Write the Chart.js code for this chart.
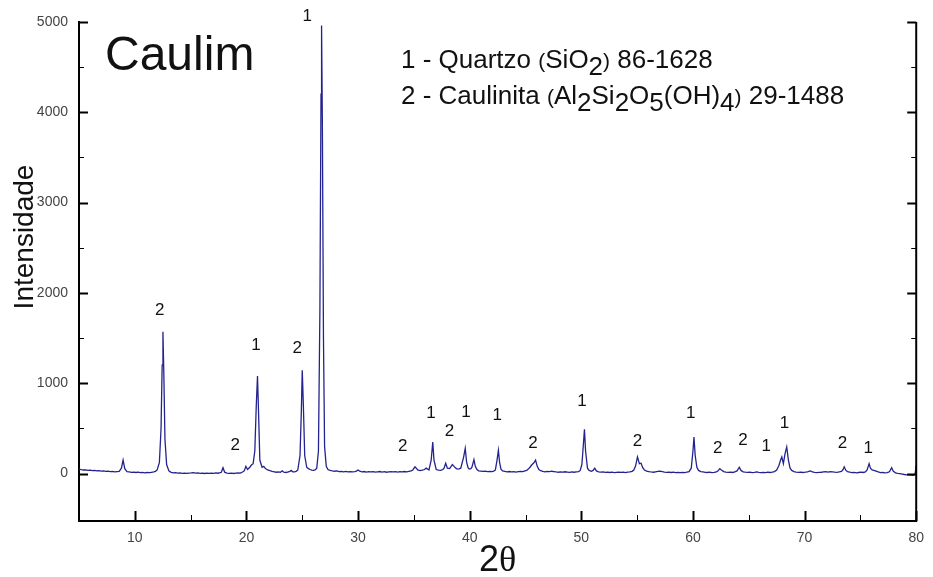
<!DOCTYPE html>
<html>
<head>
<meta charset="utf-8">
<script src="https://cdn.jsdelivr.net/npm/chart.js@4.4.0/dist/chart.umd.min.js"></script>
<style>
  html, body { margin: 0; padding: 0; background: #fff; }
  #wrap { width: 933px; height: 577px; }
</style>
</head>
<body>
<div id="wrap"><canvas id="xrd" width="933" height="577"></canvas></div>
<script>
// 2theta (degrees) and intensity, ten points per line
var twoTheta = [
  5.0, 5.2, 5.4, 5.6, 5.8, 6.0, 6.2, 6.4, 6.6, 6.8,
  7.0, 7.2, 7.4, 7.6, 7.8, 8.0, 8.2, 8.4, 8.6, 8.8,
  8.95, 9.1, 9.3, 9.5, 9.7, 9.9, 10.1, 10.3, 10.5, 10.7,
  10.9, 11.1, 11.3, 11.5, 11.7, 11.85, 12.0, 12.2, 12.35, 12.45,
  12.52, 12.6, 12.7, 12.85, 13.05, 13.25, 13.45, 13.65, 13.85, 14.05,
  14.25, 14.45, 14.65, 14.85, 15.05, 15.25, 15.45, 15.65, 15.85, 16.05,
  16.25, 16.45, 16.65, 16.85, 17.05, 17.25, 17.45, 17.65, 17.75, 17.9,
  18.05, 18.25, 18.45, 18.65, 18.85, 19.05, 19.25, 19.45, 19.65, 19.8,
  19.95, 20.1, 20.3, 20.45, 20.6, 20.75, 20.88, 20.99, 21.08, 21.2,
  21.4, 21.55, 21.7, 21.9, 22.1, 22.3, 22.5, 22.7, 22.9, 23.05,
  23.2, 23.35, 23.55, 23.75, 23.9, 24.0, 24.15, 24.3, 24.45, 24.6,
  24.8, 24.92, 25.0, 25.1, 25.22, 25.4, 25.55, 25.7, 25.85, 26.0,
  26.15, 26.3, 26.45, 26.58, 26.68, 26.73, 26.8, 26.9, 27.0, 27.15,
  27.3, 27.5, 27.7, 27.9, 28.1, 28.3, 28.5, 28.7, 28.9, 29.1,
  29.3, 29.5, 29.7, 29.85, 30.0, 30.15, 30.35, 30.55, 30.75, 30.95,
  31.15, 31.35, 31.55, 31.75, 31.95, 32.15, 32.35, 32.55, 32.75, 32.95,
  33.15, 33.35, 33.55, 33.75, 33.95, 34.15, 34.35, 34.55, 34.75, 34.9,
  35.1, 35.35, 35.55, 35.75, 35.95, 36.1, 36.35, 36.55, 36.69, 36.8,
  37.0, 37.2, 37.4, 37.6, 37.7, 37.85, 38.0, 38.2, 38.45, 38.6,
  38.75, 38.9, 39.05, 39.2, 39.45, 39.6, 39.72, 39.85, 39.95, 40.1,
  40.2, 40.38, 40.5, 40.65, 40.8, 41.0, 41.2, 41.4, 41.6, 41.8,
  42.0, 42.15, 42.3, 42.45, 42.57, 42.68, 42.8, 42.95, 43.15, 43.35,
  43.55, 43.75, 43.95, 44.15, 44.35, 44.55, 44.75, 44.95, 45.1, 45.25,
  45.4, 45.55, 45.75, 45.9, 46.05, 46.2, 46.35, 46.55, 46.75, 46.95,
  47.15, 47.35, 47.55, 47.75, 47.95, 48.15, 48.35, 48.55, 48.75, 48.95,
  49.15, 49.35, 49.55, 49.75, 49.9, 50.05, 50.2, 50.28, 50.38, 50.55,
  50.7, 50.9, 51.05, 51.2, 51.35, 51.55, 51.75, 51.95, 52.15, 52.35,
  52.55, 52.75, 52.95, 53.15, 53.35, 53.55, 53.75, 53.95, 54.15, 54.35,
  54.55, 54.7, 54.85, 55.03, 55.2, 55.35, 55.5, 55.65, 55.85, 56.05,
  56.25, 56.45, 56.65, 56.85, 57.05, 57.25, 57.45, 57.65, 57.85, 58.05,
  58.25, 58.45, 58.65, 58.85, 59.05, 59.25, 59.45, 59.65, 59.85, 60.0,
  60.09, 60.2, 60.35, 60.5, 60.7, 60.9, 61.1, 61.3, 61.5, 61.7,
  61.9, 62.1, 62.25, 62.4, 62.55, 62.75, 62.95, 63.15, 63.35, 63.55,
  63.75, 63.95, 64.15, 64.3, 64.5, 64.7, 64.9, 65.1, 65.3, 65.5,
  65.7, 65.9, 66.1, 66.3, 66.5, 66.7, 66.9, 67.1, 67.3, 67.5,
  67.7, 67.85, 67.96, 68.1, 68.25, 68.4, 68.55, 68.7, 68.85, 69.05,
  69.25, 69.45, 69.65, 69.85, 70.05, 70.25, 70.5, 70.7, 70.9, 71.1,
  71.3, 71.5, 71.7, 71.9, 72.1, 72.3, 72.5, 72.7, 72.9, 73.1,
  73.3, 73.45, 73.55, 73.7, 73.85, 74.05, 74.25, 74.45, 74.65, 74.85,
  75.05, 75.25, 75.45, 75.6, 75.78, 75.9, 76.05, 76.2, 76.4, 76.6,
  76.8, 77.0, 77.2, 77.4, 77.6, 77.8, 77.95, 78.15, 78.35, 78.55,
  78.75, 78.95, 79.15, 79.35, 79.55, 79.75, 79.9, 80.0
];
var intensity = [
  50, 44, 40, 42, 36, 38, 33, 36, 30, 32,
  28, 30, 25, 27, 21, 24, 18, 22, 25, 60,
  150, 55, 22, 18, 14, 17, 12, 15, 11, 14,
  9, 12, 10, 14, 18, 25, 40, 120, 500, 1200,
  1570, 1100, 380, 100, 30, 14, 8, 11, 5, 8,
  3, 6, 2, 5, 7, 10, 6, 8, 3, 5,
  1, 4, 2, 6, 3, 7, 4, 10, 15, 65,
  15, 6, 2, 5, 1, 4, 7, 5, 18, 30,
  80, 45, 70, 95, 110, 250, 750, 1080, 700, 150,
  70, 80, 55, 40, 32, 25, 20, 15, 18, 14,
  30, 15, 12, 18, 25, 35, 20, 18, 25, 40,
  200, 700, 1145, 750, 200, 70, 55, 45, 38, 35,
  40, 60, 250, 1800, 4200, 4960, 3900, 1500, 300, 80,
  45, 35, 30, 26, 30, 22, 25, 20, 24, 19,
  22, 18, 22, 28, 40, 26, 20, 23, 17, 21,
  18, 22, 16, 20, 23, 17, 21, 15, 19, 22,
  18, 21, 17, 22, 19, 23, 20, 25, 30, 40,
  75, 40, 33, 38, 45, 60, 40, 150, 350, 150,
  45, 38, 35, 45, 60, 115, 60, 55, 100, 80,
  60, 50, 52, 60, 180, 280, 130, 65, 50, 55,
  70, 155, 80, 45, 30, 27, 24, 28, 22, 25,
  21, 26, 40, 150, 258, 120, 50, 30, 24, 20,
  23, 18, 22, 17, 21, 25, 22, 30, 35, 50,
  70, 95, 120, 150, 80, 45, 32, 25, 20, 24,
  21, 26, 22, 18, 15, 19, 16, 20, 17, 14,
  18, 15, 19, 22, 35, 100, 350, 490, 250, 60,
  35, 25, 35, 60, 30, 20, 16, 18, 13, 16,
  12, 15, 11, 14, 17, 13, 15, 11, 16, 18,
  25, 40, 80, 185, 110, 115, 65, 40, 28, 22,
  18, 15, 20, 25, 27, 22, 17, 13, 16, 12,
  15, 11, 14, 10, 13, 11, 15, 22, 60, 250,
  405, 200, 70, 35, 22, 18, 14, 12, 15, 11,
  14, 18, 30, 55, 40, 22, 16, 13, 16, 12,
  18, 30, 70, 35, 20, 16, 13, 15, 11, 14,
  18, 13, 10, 14, 11, 15, 12, 16, 22, 40,
  90, 150, 185, 110, 220, 295, 150, 60, 35, 22,
  17, 14, 16, 12, 15, 20, 30, 18, 13, 10,
  13, 15, 18, 21, 17, 22, 19, 16, 14, 18,
  25, 45, 75, 35, 22, 15, 10, 13, 9, 12,
  15, 12, 18, 40, 110, 60, 40, 35, 28, 18,
  10, 12, 8, 10, 20, 65, 25, 8, 3, 0,
  -5, -10, -14, -12, -18, -20, -5, 90
];

// phase markers: 1 = quartzo, 2 = caulinita
var markText = ['2', '2', '1', '2', '1', '2', '1', '2', '1', '1', '2', '1', '2', '1', '2', '2', '1', '1', '2', '1'];
var markTheta = [12.23, 19.0, 20.85, 24.56, 25.45, 34.0, 36.54, 38.18, 39.66, 42.46, 45.67, 50.05, 55.03, 59.8, 62.23, 64.48, 66.56, 68.2, 73.4, 75.7];
var markInt = [1808, 313, 1420, 1384, 5068, 302, 671, 468, 682, 645, 339, 800, 357, 663, 283, 369, 302, 560, 339, 283];

var xMajor = [10, 20, 30, 40, 50, 60, 70, 80];
var xMinor = [15, 25, 35, 45, 55, 65, 75];
var yMajor = [0, 1000, 2000, 3000, 4000, 5000];
var yMinor = [500, 1500, 2500, 3500, 4500];

var FONT = "'Liberation Sans', Arial, sans-serif";

var points = twoTheta.map(function (t, i) { return { x: t, y: intensity[i] }; });

var decor = {
  id: 'decor',
  afterDraw: function (chart) {
    var ctx = chart.ctx;
    var a = chart.chartArea;
    var sx = chart.scales.x, sy = chart.scales.y;
    ctx.save();

    // right axis line
    ctx.strokeStyle = '#000';
    ctx.lineWidth = 2;
    ctx.beginPath();
    ctx.moveTo(a.right, a.top);
    ctx.lineTo(a.right, a.bottom + 1);
    ctx.stroke();

    // inward tick marks
    function yTick(v, len) {
      var p = Math.round(sy.getPixelForValue(v)) + 0.5;
      ctx.beginPath();
      ctx.moveTo(a.left, p); ctx.lineTo(a.left + len, p);
      ctx.moveTo(a.right, p); ctx.lineTo(a.right - len, p);
      ctx.stroke();
    }
    function xTick(v, len) {
      var p = Math.round(sx.getPixelForValue(v)) + 0.5;
      ctx.beginPath();
      ctx.moveTo(p, a.bottom); ctx.lineTo(p, a.bottom - len);
      ctx.stroke();
    }
    ctx.lineWidth = 2;
    yMajor.forEach(function (v) { yTick(v, 9); });
    xMajor.forEach(function (v) { xTick(v, 10); });
    ctx.lineWidth = 1;
    yMinor.forEach(function (v) { yTick(v, 5); });
    xMinor.forEach(function (v) { xTick(v, 6); });

    // peak markers
    ctx.fillStyle = '#111';
    ctx.font = '17px ' + FONT;
    ctx.textAlign = 'center';
    ctx.textBaseline = 'middle';
    markText.forEach(function (t, i) {
      ctx.fillText(t, sx.getPixelForValue(markTheta[i]), sy.getPixelForValue(markInt[i]));
    });

    // sample name
    ctx.textAlign = 'left';
    ctx.textBaseline = 'alphabetic';
    ctx.font = '48px ' + FONT;
    ctx.fillText('Caulim', 105, 70);

    // phase key with subscripts
    function rich(parts, x, y) {
      parts.forEach(function (p) {
        ctx.font = p[1] + 'px ' + FONT;
        ctx.fillText(p[0], x, y + (p[2] || 0));
        x += ctx.measureText(p[0]).width;
      });
    }
    rich([['1 - Quartzo ', 26], ['(', 21], ['SiO', 26], ['2', 26, 7], [')', 21], [' 86-1628', 26]], 401, 68);
    rich([['2 - Caulinita ', 26], ['(', 21], ['Al', 26], ['2', 26, 7], ['Si', 26], ['2', 26, 7],
          ['O', 26], ['5', 26, 7], ['(OH)', 26], ['4', 26, 7], [')', 21], [' 29-1488', 26]], 401, 104);

    // axis titles
    ctx.font = '28px ' + FONT;
    ctx.textAlign = 'center';
    ctx.save();
    ctx.translate(33, 237);
    ctx.rotate(-Math.PI / 2);
    ctx.fillText('Intensidade', 0, 0);
    ctx.restore();

    ctx.textAlign = 'left';
    ctx.font = '36px ' + FONT;
    var w2 = ctx.measureText('2').width;
    ctx.font = "36px 'Liberation Serif', serif";
    var wt = ctx.measureText('\u03b8').width;
    var x0 = (a.left + a.right) / 2 - (w2 + wt) / 2;
    ctx.font = '36px ' + FONT;
    ctx.fillText('2', x0, 571);
    ctx.font = "36px 'Liberation Serif', serif";
    ctx.fillText('\u03b8', x0 + w2, 571);

    ctx.restore();
  }
};

new Chart(document.getElementById('xrd'), {
  type: 'scatter',
  data: {
    datasets: [{
      data: points,
      showLine: true,
      borderColor: '#23238f',
      borderWidth: 1.3,
      pointRadius: 0,
      tension: 0
    }]
  },
  options: {
    responsive: false,
    animation: false,
    layout: { padding: { top: 22, right: 13, left: 0, bottom: 0 } },
    plugins: { legend: { display: false }, tooltip: { enabled: false } },
    scales: {
      x: {
        type: 'linear',
        min: 5,
        max: 80,
        afterBuildTicks: function (s) { s.ticks = xMajor.map(function (v) { return { value: v }; }); },
        afterFit: function (s) { s.height = 56; },
        grid: { display: false, drawTicks: false },
        border: { display: true, color: '#000', width: 2 },
        ticks: { color: '#444', padding: 9, font: { family: FONT, size: 14 }, maxRotation: 0,
                 callback: function (v) { return String(v); } }
      },
      y: {
        type: 'linear',
        min: -525,
        max: 5000,
        afterBuildTicks: function (s) { s.ticks = yMajor.map(function (v) { return { value: v }; }); },
        afterFit: function (s) { s.width = 79; },
        grid: { display: false, drawTicks: false },
        border: { display: true, color: '#000', width: 2 },
        ticks: { color: '#444', padding: 11, font: { family: FONT, size: 14 },
                 callback: function (v) { return String(v); } }
      }
    }
  },
  plugins: [decor]
});
</script>
</body>
</html>
